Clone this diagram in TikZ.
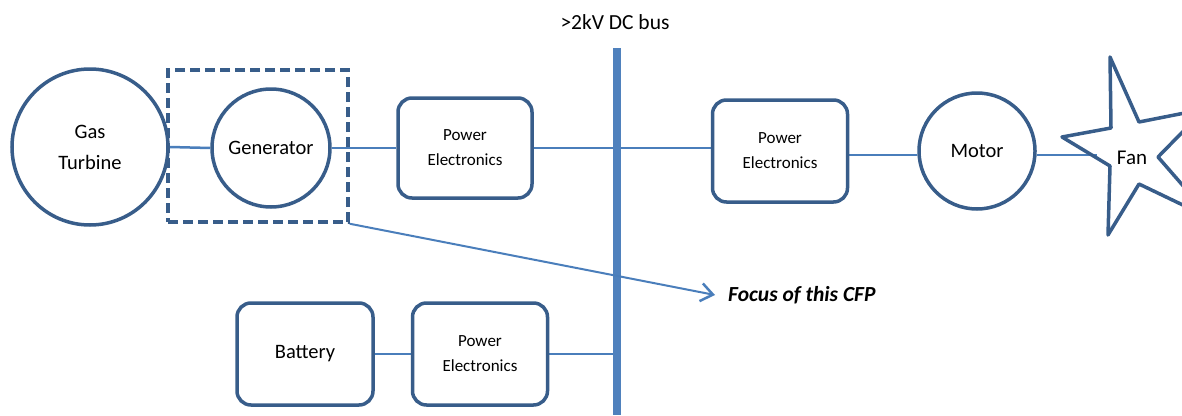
\documentclass[tikz,border=0pt]{standalone}
\usepackage{fontspec}
\setmainfont{Carlito}
\usetikzlibrary{arrows.meta,backgrounds}
\definecolor{shapeblue}{RGB}{56,93,138}
\definecolor{linkblue}{RGB}{74,126,187}
\definecolor{busblue}{RGB}{79,129,189}
\tikzset{
  unit/.style={circle, draw=shapeblue, line width=3.5pt, fill=white, inner sep=0pt, align=center, font=\fontsize{20.5}{31}\selectfont},
  block/.style={rectangle, rounded corners=14pt, draw=shapeblue, line width=3.5pt, fill=white, align=center, inner sep=0pt, font=\fontsize{17}{25}\selectfont},
  link/.style={draw=linkblue, line width=2.5pt},
  busline/.style={draw=busblue, line width=8pt},
  focusframe/.style={draw=shapeblue, line width=3.5pt, dash pattern=on 10pt off 5pt, inner sep=0pt},
  label20/.style={font=\fontsize{21.5}{24}\selectfont, inner sep=0pt}
}
\begin{document}
\begin{tikzpicture}[x=1pt,y=-1pt]
\useasboundingbox (0,0) rectangle (1182,415);
% nodes
\node[unit, minimum size=156pt] (gt) at (90,147) {Gas\\Turbine};
\node[unit, minimum size=118pt] (gen) at (271,148) {Generator};
\node[block, minimum width=134pt, minimum height=100pt] (pe1) at (465,148) {Power\\Electronics};
\node[block, minimum width=135pt, minimum height=102pt] (pe2) at (780,151) {Power\\Electronics};
\node[unit, minimum size=116pt] (motor) at (977,151) {Motor};
\node[block, minimum width=136pt, minimum height=102pt, font=\fontsize{20.5}{24}\selectfont] (batt) at (305,354) {Battery};
\node[block, minimum width=135pt, minimum height=102pt] (pe3) at (480,354) {Power\\Electronics};
\coordinate (bustop) at (617,48);
\coordinate (busbot) at (617,415);
\coordinate (fanin) at (1097,155);
% connectors behind the shapes
\begin{scope}[on background layer]
\draw[link] (gt.east) -- (gen.west);
\draw[link] (gen.east) -- (gen.east -| pe1.west);
\draw[link] (pe1.east) -- (pe1.east -| pe2.west);
\draw[link] (pe2.east |- 0,155) -- (motor.west |- 0,155);
\draw[link] (motor.east |- 0,155) -- (fanin);
\draw[link] (batt.east) -- (pe3.west);
\draw[link] (pe3.east) -- (pe3.east -| bustop);
\draw[busline] (bustop) -- (busbot);
\end{scope}
% fan star
\draw[shapeblue, line width=3.5pt, line join=round]
  (1110,57) -- (1139,122) -- (1205,109) -- (1158,157) -- (1212,219)
  -- (1139,184) -- (1108,235) -- (1110,166) -- (1062,137) -- (1111,128) -- cycle;
\node[font=\fontsize{21}{24}\selectfont, inner sep=0pt] (fan) at (1132,158) {Fan};
% focus frame
\node[focusframe, minimum width=180pt, minimum height=152pt] (focusbox) at (258,146) {};
\node[label20, anchor=west, font=\fontsize{21.5}{24}\selectfont\bfseries\itshape] (focus) at (728,295) {Focus of this CFP};
\draw[link, line width=2pt, -{Straight Barb[length=12pt,width=18pt,line width=2.5pt]}] (focusbox.south east) -- ([xshift=-13pt]focus.west);
\node[label20] (buslabel) at (615,22) {>2kV DC bus};
\end{tikzpicture}
\end{document}
